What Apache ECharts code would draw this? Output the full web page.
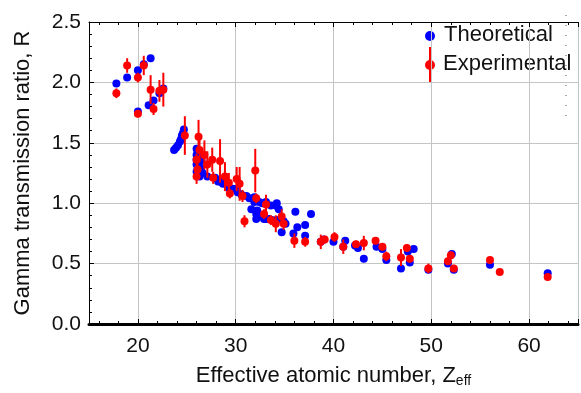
<!DOCTYPE html>
<html><head><meta charset="utf-8">
<script src="https://cdn.jsdelivr.net/npm/echarts@6/dist/echarts.min.js"></script>
<style>html,body{margin:0;padding:0;background:#fff}#c{width:581px;height:393px}</style>
</head><body><div id="c"></div>
<script>
// Theoretical values (blue)
const theoZ = [17.8,18.9,20.0,20.6,21.3,20.0,21.1,21.6,22.2,22.6,
  23.7,23.9,24.1,24.3,24.4,24.5,24.6,24.7,
  26.0,26.1,26.0,26.2,26.0,26.1,26.0,26.2,26.1,26.0,26.2,26.3,26.5,26.4,26.5,
  26.6,27.1,27.9,28.2,28.4,28.7,29.2,29.7,30.1,30.2,30.6,31.1,31.4,31.9,32.4,32.7,33.1,34.1,34.4,
  31.6,32.1,32.1,32.6,32.9,33.4,33.7,34.9,34.2,35.1,34.7,36.1,37.7,36.3,35.9,37.1,37.1,
  31.9,33.6,34.2,32.2,33.1,
  38.7,39.0,40.0,41.0,41.2,42.2,42.5,43.1,44.4,45.0,45.4,46.9,47.8,47.6,48.2,49.7,
  51.7,52.1,52.3,56.0,61.9];
const theoR = [1.99,2.04,2.10,2.15,2.20,1.76,1.81,1.85,1.91,1.95,
  1.44,1.46,1.48,1.51,1.53,1.56,1.58,1.61,
  1.45,1.42,1.40,1.38,1.36,1.34,1.32,1.30,1.28,1.26,1.24,1.22,1.35,1.29,1.26,
  1.25,1.22,1.21,1.18,1.18,1.16,1.13,1.12,1.12,1.09,1.07,1.06,1.04,1.01,1.01,1.00,1.01,0.98,0.95,
  0.95,0.91,0.87,0.89,0.87,0.87,0.86,0.85,0.86,0.83,0.76,0.93,0.91,0.80,0.75,0.82,0.73,
  1.05,0.98,1.00,0.94,0.87,
  0.68,0.70,0.68,0.64,0.69,0.65,0.63,0.54,0.64,0.62,0.53,0.46,0.51,0.60,0.62,0.45,
  0.50,0.58,0.45,0.49,0.42];
// Experimental values (red) with error
const expZ = [17.8,18.9,20.0,20.6,21.3,20.0,21.6,22.2,22.6,24.8,
  26.2,26.3,26.0,26.1,26.0,26.8,27.1,27.6,28.4,27.7,28.9,29.4,29.3,30.1,30.4,30.7,32.0,32.1,30.9,
  32.9,33.1,33.6,34.1,34.7,34.9,36.0,37.1,38.7,39.1,40.1,41.0,42.3,43.1,44.3,45.0,45.4,46.9,47.5,47.8,
  49.7,51.7,52.0,52.3,56.0,57.0,61.9];
const expR = [1.91,2.14,2.04,2.14,1.94,1.74,1.78,1.93,1.94,1.56,
  1.55,1.44,1.36,1.28,1.22,1.40,1.32,1.36,1.35,1.21,1.22,1.08,1.17,1.20,1.16,1.06,1.27,1.04,0.85,
  0.91,0.99,0.86,0.83,0.89,0.83,0.69,0.68,0.68,0.70,0.72,0.64,0.66,0.67,0.69,0.64,0.56,0.55,0.63,0.54,
  0.46,0.52,0.57,0.46,0.53,0.43,0.39];
const expErr = [0.04,0.06,0.04,0.08,0.12,0.03,0.05,0.09,0.14,0.16,
  0.14,0.10,0.05,0.08,0.06,0.12,0.11,0.10,0.18,0.05,0.12,0.04,0.08,0.10,0.14,0.05,0.18,0.04,0.05,
  0.04,0.08,0.04,0.07,0.06,0.05,0.06,0.04,0.06,0.03,0.04,0.06,0.03,0.06,0.03,0.03,0.04,0.07,0.03,0.03,
  0.04,0.03,0.03,0.03,0.02,0.02,0.02];
const seriesNames = ['Theoretical','Experimental'];
const xTitle = 'Effective atomic number, Z';
const xTitleSub = 'eff';
const yTitle = 'Gamma transmission ratio, R';

const FONT = 'Liberation Sans, Arial, sans-serif';
const theoData = theoZ.map((z,i)=>[z,theoR[i]]);
const expData = expZ.map((z,i)=>[z,expR[i]]);
const errData = expZ.map((z,i)=>[z,expR[i]-expErr[i],expR[i]+expErr[i]]);

const chart = echarts.init(document.getElementById('c'), null, {renderer:'canvas'});
chart.setOption({
  animation:false,
  backgroundColor:'#fff',
  grid:{left:89, top:22, width:500, height:309, containLabel:false},
  xAxis:[{
    type:'value', min:15, max:65, splitNumber:5,
    axisLine:{show:true, onZero:false, lineStyle:{color:'#000', width:3}},
    axisTick:{show:true, inside:true, length:5, lineStyle:{color:'#000'}},
    minorTick:{show:true, splitNumber:5, length:3, lineStyle:{color:'#000'}},
    axisLabel:{color:'#111', fontSize:21, fontFamily:FONT, margin:12,
      formatter:v=> (v%10===0 ? String(v) : '')},
    splitLine:{show:true, lineStyle:{color:'#c4c4c4', width:1}},
    name:'{a|'+xTitle+'}{b|'+xTitleSub+'}', nameLocation:'middle', nameGap:40,
    nameTextStyle:{rich:{a:{fontSize:22, fontFamily:FONT, color:'#111'},
                         b:{fontSize:14, fontFamily:FONT, color:'#111', verticalAlign:'bottom', padding:[10,0,0,0]}}}
  },{
    type:'value', position:'top', min:15, max:65, splitNumber:5,
    axisLine:{show:true, onZero:false, lineStyle:{color:'#000', width:1}},
    axisTick:{show:true, inside:true, length:5, lineStyle:{color:'#000'}},
    minorTick:{show:true, splitNumber:5, length:3, lineStyle:{color:'#000'}},
    axisLabel:{show:false}, splitLine:{show:false}
  }],
  yAxis:{
    type:'value', min:0, max:2.5, interval:0.5,
    axisLine:{show:true, lineStyle:{color:'#000', width:1}},
    axisTick:{show:true, inside:true, length:5, lineStyle:{color:'#000'}},
    minorTick:{show:true, splitNumber:5, length:3, lineStyle:{color:'#000'}},
    axisLabel:{color:'#111', fontSize:21, fontFamily:FONT, margin:8, formatter:v=>v.toFixed(1)},
    splitLine:{show:true, lineStyle:{color:'#c4c4c4', width:1}},
    name:yTitle, nameLocation:'middle', nameGap:55,
    nameTextStyle:{fontSize:22, fontFamily:FONT, color:'#111'}
  },
  series:[
    {name:seriesNames[0], type:'scatter', data:theoData, symbol:'circle', symbolSize:8,
     itemStyle:{color:'#0000ff', opacity:1}, z:3},
    {name:seriesNames[1]+' error', type:'custom', data:errData, encode:{x:0, y:[1,2]}, z:4,
     renderItem:function(params, api){
       const x = api.value(0), lo = api.value(1), hi = api.value(2);
       const p1 = api.coord([x, lo]), p2 = api.coord([x, hi]);
       return {type:'line', shape:{x1:p1[0], y1:p1[1], x2:p2[0], y2:p2[1]},
               style:{stroke:'#ff0000', lineWidth:2}};
     }},
    {name:seriesNames[1], type:'scatter', data:expData, symbol:'circle', symbolSize:8,
     itemStyle:{color:'#ff0000', opacity:1}, z:5}
  ],
  graphic:[
    {type:'line', shape:{x1:566, y1:15, x2:566, y2:122}, style:{stroke:'#555', lineWidth:1, lineDash:[1,9]}},
    {type:'circle', shape:{cx:430, cy:36, r:5}, style:{fill:'#0000ff'}},
    {type:'line', shape:{x1:430, y1:47, x2:430, y2:83}, style:{stroke:'#ff0000', lineWidth:2}},
    {type:'circle', shape:{cx:430, cy:65, r:5}, style:{fill:'#ff0000'}},
    {type:'text', left:444, top:24, style:{text:seriesNames[0], fontSize:22, fontFamily:FONT, fill:'#111'}},
    {type:'text', left:443, top:53, style:{text:seriesNames[1], fontSize:22, fontFamily:FONT, fill:'#111'}}
  ]
});
</script></body></html>
